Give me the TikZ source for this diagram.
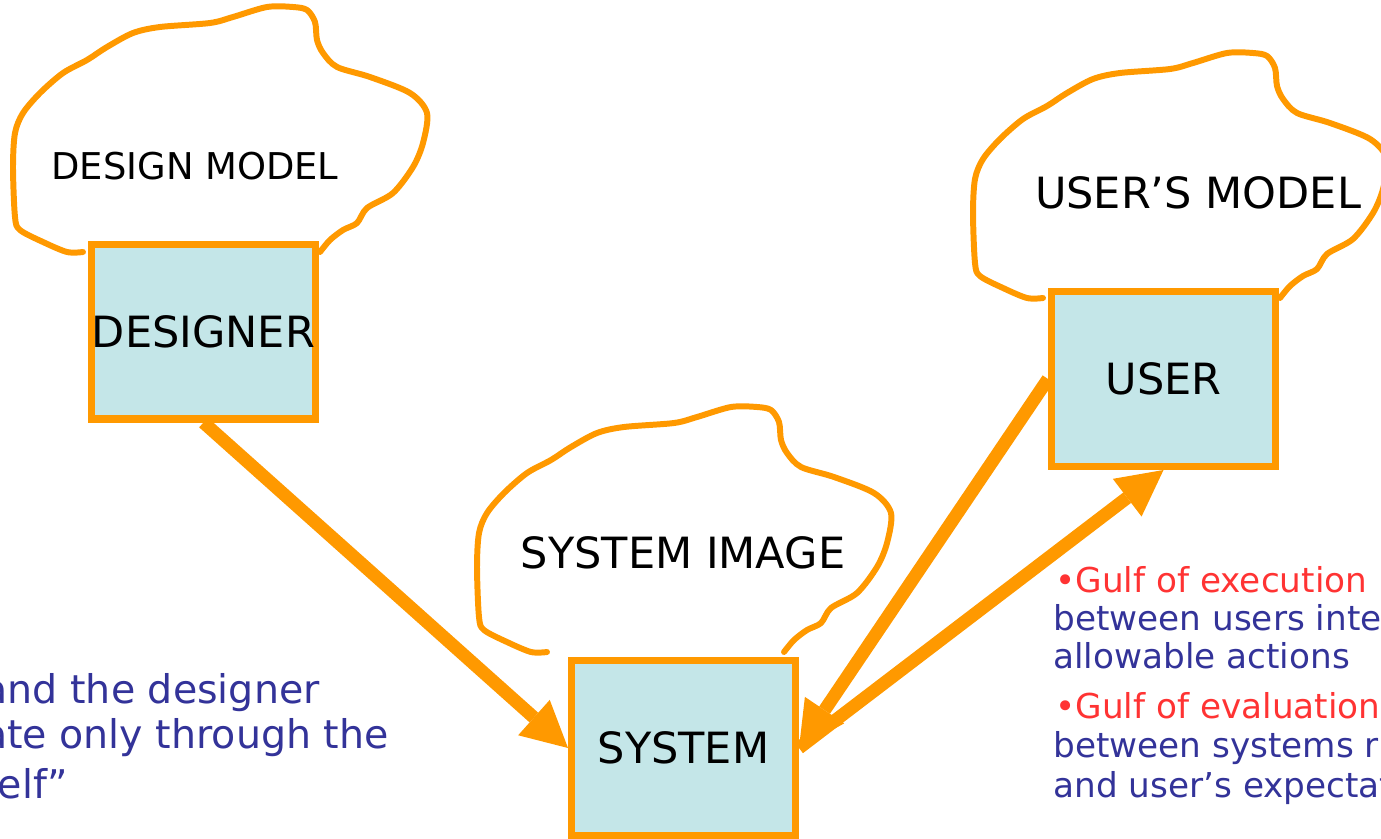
\documentclass[tikz,border=0pt]{standalone}
\usepackage{fontspec}
\setmainfont{DejaVu Sans}
\usetikzlibrary{arrows.meta}
\definecolor{orng}{HTML}{FF9900}
\definecolor{boxfill}{HTML}{C4E6E8}
\definecolor{txtblue}{HTML}{333399}
\definecolor{txtred}{HTML}{FF3333}
\tikzset{
	bubble/.pic={
		\draw[orng, line width=3.4pt, line cap=round, line join=round] plot[smooth, tension=0.5] coordinates {
			(83,252) (67,252) (43,242) (20,230) (15,217) (13,167) (15,133) (23,113) (40,93) (63,73) (87,60)
			(107,47) (133,33) (160,27) (210,23) (233,17) (267,7) (293,7) (307,10) (315,22) (317,40) (323,53)
			(337,67) (370,77) (410,93) (427,113) (423,143) (413,167) (393,193) (367,208) (357,223) (343,230)
			(330,240) (320,252)};
	},
	agent/.style={draw=orng, fill=boxfill, line width=4pt, minimum width=4.48cm, minimum height=3.5cm,
		inner sep=0pt, font=\fontsize{24.5}{28}\selectfont},
	bubbletext/.style={inner sep=0pt, font=\fontsize{24.5}{28}\selectfont},
	bigarrow/.style={orng, line width=7.4pt, -{Triangle[length=26pt, width=27pt, line width=0pt]}},
	gulf/.style={anchor=base west, inner sep=0pt, font=\fontsize{19.5}{22}\selectfont},
	remark/.style={anchor=base east, inner sep=0pt, txtblue, font=\fontsize{22.5}{26}\selectfont}
}
\begin{document}
\begin{tikzpicture}[x=0.02cm, y=-0.02cm]
	\useasboundingbox (0,0) rectangle (1381,838);
	\clip (0,0) rectangle (1381,838);
	% mental models
	\pic at (0,0) {bubble};
	\pic at (960,46) {bubble};
	\pic at (464,400) {bubble};
	\node[bubbletext, font=\fontsize{21}{25}\selectfont] (designmodel) at (195,166) {DESIGN MODEL};
	\node[bubbletext] (usermodel) at (1198,193) {USER’S MODEL};
	\node[bubbletext] (sysimage) at (683,553) {SYSTEM IMAGE};
	% the three parties
	\node[agent] (designer) at (203.5,331.5) {DESIGNER};
	\node[agent] (user) at (1163.5,379) {USER};
	\node[agent] (system) at (683.5,748) {SYSTEM};
	\draw[bigarrow] (designer.south) -- (system.west);
	\draw[bigarrow] (user.west) -- (system.east);
	\draw[bigarrow] (system.east) -- (user.south);
	% notes
	\path
	(320,703) node[remark] (rem1) {and the designer}
	(389,748) node[remark] (rem2) {ate only through the}
	(68,798) node[remark] (rem3) {elf”}
	(1055,592) node[gulf, txtred] (gx) {•Gulf of execution}
	(1053,630) node[gulf, txtblue] (gx1) {between users inte}
	(1053,668) node[gulf, txtblue] (gx2) {allowable actions}
	(1055,718) node[gulf, txtred] (ge) {•Gulf of evaluation}
	(1053,757) node[gulf, txtblue] (ge1) {between systems r}
	(1053,797) node[gulf, txtblue] (ge2) {and user’s expectat}
	;
\end{tikzpicture}
\end{document}
